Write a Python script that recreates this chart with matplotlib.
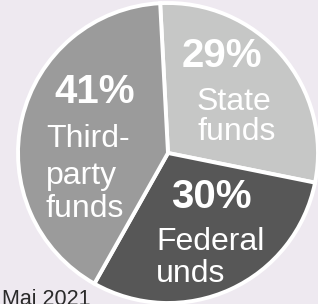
import matplotlib
matplotlib.use("Agg")
import matplotlib.pyplot as plt
from matplotlib import font_manager

# dados do gráfico
categorias = ["State funds", "Federal funds", "Third-party funds"]
percentuais = [29, 30, 41]
rotulos_pct = ["29%", "30%", "41%"]
rotulos_txt = [["State", "funds"], ["Federal", "unds"], ["Third-", "party", "funds"]]
cores = ["#c6c7c6", "#575757", "#9b9b9b"]
data_texto = "Maj 2021"

W, H = 318, 304
fig = plt.figure(figsize=(W / 100, H / 100), dpi=100)
fig.patch.set_facecolor("#eee9f0")
ax = fig.add_axes([0, 0, 1, 1])

ax.pie(percentuais, colors=cores, startangle=93, counterclock=False,
       center=(168, H - 153), radius=150, frame=True,
       wedgeprops=dict(edgecolor="white", linewidth=2.8))
ax.set_xlim(0, W)
ax.set_ylim(0, H)
ax.set_aspect("equal")
ax.axis("off")

# fonte estreita se existir, senão Liberation Sans menor
nomes = {f.name for f in font_manager.fontManager.ttflist}
if "Liberation Sans Narrow" in nomes:
    fonte_txt, tam_txt = ["Liberation Sans Narrow", "DejaVu Sans"], 27
else:
    fonte_txt, tam_txt = ["Liberation Sans", "DejaVu Sans"], 23
fonte_bold = ["Liberation Sans", "DejaVu Sans"]

# posições (pixels a partir do topo): centro/baseline do %, esquerda/baselines das linhas
pos_pct = [(222, 67), (211, 208), (95, 103)]
pos_txt = [(197, [110, 140]), (156, [250, 282]), (46, [147, 184, 217])]

for i in range(3):
    x, yb = pos_pct[i]
    ax.text(x, H - yb, rotulos_pct[i], color="white", fontsize=29,
            fontweight="bold", family=fonte_bold, ha="center", va="baseline")
    xl, bases = pos_txt[i]
    for linha, yb in zip(rotulos_txt[i], bases):
        ax.text(xl, H - yb, linha, color="white", fontsize=tam_txt,
                family=fonte_txt, ha="left", va="baseline")

ax.text(2, H - 305, data_texto, color="#2a2a2a", fontsize=15.5,
        family=fonte_bold, ha="left", va="baseline")

fig.savefig("out.png", dpi=100, facecolor=fig.get_facecolor())
